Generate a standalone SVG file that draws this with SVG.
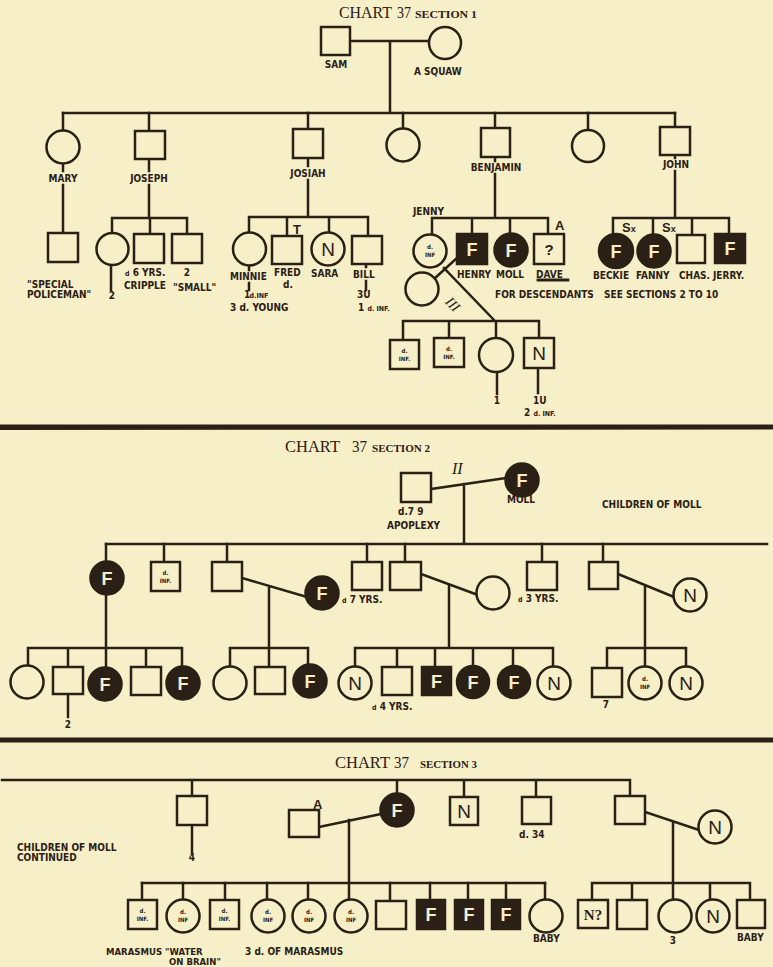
<svg xmlns="http://www.w3.org/2000/svg" width="773" height="967" viewBox="0 0 773 967">
<style>
.bg{fill:#f7efc8}
.l{stroke:#2b2015;stroke-width:2.5;fill:none;stroke-linecap:square}
.s{fill:#f7efc8;stroke:#2b2015;stroke-width:2.5}
.k{fill:#2b2015;stroke:#2b2015;stroke-width:2.5}
.t{font-family:"DejaVu Sans Condensed","DejaVu Sans","Liberation Sans",sans-serif;font-weight:bold;font-size:10px;fill:#2b2015}
.m{text-anchor:middle}
.sm{font-family:"DejaVu Sans Condensed","DejaVu Sans",sans-serif;font-weight:bold;font-size:6px;fill:#2b2015;text-anchor:middle}
.F{font-family:"Liberation Sans","Arial",sans-serif;font-weight:bold;font-size:18px;fill:#f7efc8;text-anchor:middle}
.N{font-family:"Liberation Sans","Arial",sans-serif;font-size:19px;fill:#2b2015;text-anchor:middle}
.ti{font-family:"Liberation Serif","Times New Roman",serif;font-size:17px;fill:#2b2015}
.se{font-family:"Liberation Serif","Times New Roman",serif;font-weight:bold;font-size:10px;fill:#2b2015}
.it{font-family:"Liberation Serif","Times New Roman",serif;font-style:italic;font-size:16px;fill:#2b2015}
.big{font-family:"Liberation Sans","Arial",sans-serif;font-weight:bold;font-size:13px;fill:#2b2015}
</style>
<rect class="bg" x="0" y="0" width="773" height="967"/>

<!-- ============ SECTION 1 ============ -->
<g id="title1">
<text class="ti" x="339" y="18" textLength="53" lengthAdjust="spacingAndGlyphs">CHART</text>
<text class="ti" x="397" y="18" textLength="14" lengthAdjust="spacingAndGlyphs">37</text>
<text class="se" x="415" y="18" textLength="62" lengthAdjust="spacingAndGlyphs">SECTION 1</text>
</g>

<g id="connectors1">
<path class="l" d="M350 41H429 M390 41V113 M63 113H675"/>
<path class="l" d="M63 113V130 M149 113V131 M308 113V129 M403 113V128 M495 113V128 M588 113V129 M675 113V127"/>
<path class="l" d="M63 163V171 M63 185V233"/>
<path class="l" d="M149 159V171 M149 185V218 M112 218H187 M112 218V233 M150 218V234 M187 218V234 M111 265V290"/>
<path class="l" d="M308 158V166 M308 180V217 M249 217H368 M249 217V232 M287 217V236 M329 217V232 M368 217V236 M249 266V270 M249 283V290 M366 264V267 M366 281V290"/>
<path class="l" d="M495 157V161 M495 174V218 M432 218H548 M432 218V234 M472 218V234 M510 218V233 M548 218V234"/>
<path class="l" d="M458 257L434 279 M444 268L495 321 M403 321H539 M403 321V340 M449 321V338 M496 321V338 M539 321V338 M497 372V394 M538 368V393"/>
<path class="l" d="M675 155V158 M675 171V218 M613 218H729 M613 218V234 M653 218V234 M692 218V235 M729 218V234"/>
<path class="l" d="M538 280H568" style="stroke-width:2.8"/>
</g>

<g id="sam"><rect class="s" x="321" y="27" width="29" height="28"/><text class="t m" x="336" y="68">SAM</text></g>
<g id="squaw"><circle class="s" cx="445" cy="43" r="16"/><text class="t" x="414" y="75">A SQUAW</text></g>

<g id="mary"><circle class="s" cx="63" cy="147" r="16.5"/><text class="t m" x="63" y="182">MARY</text></g>
<g id="joseph"><rect class="s" x="135" y="131" width="30" height="28"/><text class="t m" x="149" y="182">JOSEPH</text></g>
<g id="josiah"><rect class="s" x="293" y="129" width="30" height="29"/><text class="t m" x="308" y="177">JOSIAH</text></g>
<g id="daughter4"><circle class="s" cx="403" cy="145" r="16.5"/></g>
<g id="benjamin"><rect class="s" x="481" y="128" width="29" height="29"/><text class="t m" x="496" y="171">BENJAMIN</text></g>
<g id="daughter6"><circle class="s" cx="588" cy="146" r="16"/></g>
<g id="john"><rect class="s" x="660" y="127" width="30" height="28"/><text class="t m" x="676" y="168">JOHN</text></g>

<g id="policeman"><rect class="s" x="48" y="233" width="30" height="29"/>
<text class="t" x="27" y="288">"SPECIAL</text><text class="t" x="27" y="298">POLICEMAN"</text></g>
<g id="joseph-c1"><circle class="s" cx="112.5" cy="249" r="16"/><text class="t m" x="112" y="299">2</text></g>
<g id="joseph-c2"><rect class="s" x="134" y="234" width="30" height="29"/>
<text class="t" x="125" y="276"><tspan style="font-size:7px">d</tspan> 6 YRS.</text><text class="t" x="124" y="289">CRIPPLE</text></g>
<g id="joseph-c3"><rect class="s" x="172" y="234" width="30" height="29"/>
<text class="t m" x="187" y="276">2</text><text class="t" x="173" y="291">"SMALL"</text></g>

<g id="minnie"><circle class="s" cx="249.5" cy="249" r="16.5"/><text class="t" x="230" y="280">MINNIE</text>
<text class="t" x="244" y="298">1</text><text class="sm" x="259" y="298" style="font-size:7px">d.INF</text>
<text class="t" x="230" y="311">3 d. YOUNG</text></g>
<g id="fred"><rect class="s" x="272" y="236" width="30" height="28"/><text class="big" x="293" y="234">T</text>
<text class="t" x="274" y="276">FRED</text><text class="t m" x="288" y="288">d.</text></g>
<g id="sara"><circle class="s" cx="328" cy="249" r="16.5"/><text class="N" x="328" y="256">N</text><text class="t" x="311" y="277">SARA</text></g>
<g id="bill"><rect class="s" x="352" y="236" width="30" height="28"/><text class="t" x="353" y="278">BILL</text>
<text class="t" x="357" y="298">3U</text><text class="t" x="358" y="311">1 <tspan style="font-size:7px">d. INF.</tspan></text></g>

<g id="jenny"><text class="t" x="413" y="215">JENNY</text><circle class="s" cx="430" cy="251" r="16.5"/>
<text class="sm" x="430" y="249">d.</text><text class="sm" x="430" y="257">INF</text></g>
<g id="henry"><rect class="k" x="457" y="234" width="30" height="30"/><text class="F" x="472" y="256">F</text><text class="t" x="457" y="278">HENRY</text></g>
<g id="moll1"><circle class="k" cx="511" cy="250" r="16.5"/><text class="F" x="511" y="257">F</text><text class="t" x="496" y="278">MOLL</text></g>
<g id="dave"><rect class="s" x="534" y="234" width="30" height="30"/><text class="big m" x="549" y="255" style="font-size:15px">?</text>
<text class="big" x="555" y="230">A</text><text class="t" x="536" y="278">DAVE</text></g>
<text class="t" x="495" y="298">FOR DESCENDANTS</text>
<text class="t" x="604" y="298">SEE SECTIONS 2 TO 10</text>

<g id="henry-wife"><circle class="s" cx="422" cy="289" r="16.5"/></g>
<text class="it" x="453" y="309" transform="rotate(45 453 304)" text-anchor="middle" style="font-size:14px">III</text>
<g id="hw-c1"><rect class="s" x="390" y="340" width="29" height="29"/><text class="sm" x="404.5" y="353">d.</text><text class="sm" x="404.5" y="361">INF.</text></g>
<g id="hw-c2"><rect class="s" x="434" y="338" width="30" height="29"/><text class="sm" x="449" y="351">d.</text><text class="sm" x="449" y="359">INF.</text></g>
<g id="hw-c3"><circle class="s" cx="496" cy="355" r="17"/><text class="t m" x="497" y="404">1</text></g>
<g id="hw-c4"><rect class="s" x="524" y="338" width="30" height="30"/><text class="N" x="539" y="360">N</text>
<text class="t" x="533" y="404">1U</text><text class="t" x="524" y="416">2 <tspan style="font-size:7px">d. INF.</tspan></text></g>

<g id="beckie"><circle class="k" cx="616" cy="251" r="17"/><text class="F" x="616" y="258">F</text><text class="t" x="593" y="279">BECKIE</text></g>
<g id="fanny"><circle class="k" cx="654" cy="251" r="16.5"/><text class="F" x="654" y="258">F</text><text class="t" x="636" y="279">FANNY</text></g>
<text class="big" x="622" y="232">S<tspan style="font-size:9px">x</tspan></text>
<text class="big" x="662" y="232">S<tspan style="font-size:9px">x</tspan></text>
<g id="chas"><rect class="s" x="677" y="235" width="28" height="28"/><text class="t" x="679" y="279">CHAS.</text></g>
<g id="jerry"><rect class="k" x="715" y="234" width="30" height="29"/><text class="F" x="730" y="255">F</text><text class="t" x="713" y="279">JERRY.</text></g>

<g id="divider1"><path d="M0 424.5L773 424.5L773 429.5L0 430Z" fill="#2b2015"/></g>

<!-- ============ SECTION 2 ============ -->
<g id="title2">
<text class="ti" x="285" y="452" textLength="55" lengthAdjust="spacingAndGlyphs">CHART</text>
<text class="ti" x="352" y="452" textLength="15" lengthAdjust="spacingAndGlyphs">37</text>
<text class="se" x="372" y="452" textLength="58" lengthAdjust="spacingAndGlyphs">SECTION 2</text>
</g>

<g id="connectors2">
<path class="l" d="M431 489L506 478 M464 484V544 M106 544H767"/>
<path class="l" d="M106 544V561 M164 544V562 M227 544V562 M367 544V562 M405 544V562 M542 544V562 M603 544V562"/>
<path class="l" d="M106 595V648 M28 648H182 M28 648V665 M68 648V667 M106 648V667 M146 648V667 M182 648V666 M68 694V717"/>
<path class="l" d="M242 578L307 597 M269 587V648 M230 648H308 M230 648V666 M269 648V667 M308 648V664"/>
<path class="l" d="M421 574L478 595 M449 585V648 M355 648H553 M355 648V666 M397 648V667 M435 648V667 M473 648V666 M513 648V666 M553 648V666"/>
<path class="l" d="M618 574L674 597 M645 586V648 M607 648H686 M607 648V668 M645 648V666 M686 648V666"/>
</g>

<g id="moll-husband"><rect class="s" x="401" y="473" width="30" height="29"/>
<text class="t" x="398" y="515">d.7 9</text><text class="t" x="387" y="529">APOPLEXY</text></g>
<text class="it" x="452" y="474">II</text>
<g id="moll2"><circle class="k" cx="522" cy="480" r="16.5"/><text class="F" x="522" y="487">F</text><text class="t" x="507" y="503">MOLL</text></g>
<text class="t" x="602" y="508">CHILDREN OF MOLL</text>

<g id="m-c1"><circle class="k" cx="107" cy="578" r="16.5"/><text class="F" x="107" y="585">F</text></g>
<g id="m-c2"><rect class="s" x="151" y="562" width="29" height="29"/><text class="sm" x="165.5" y="575">d.</text><text class="sm" x="165.5" y="583">INF.</text></g>
<g id="m-c3"><rect class="s" x="212" y="562" width="30" height="29"/></g>
<g id="m-c3-wife"><circle class="k" cx="322" cy="593" r="16.5"/><text class="F" x="322" y="600">F</text>
<text class="t" x="342" y="603"><tspan style="font-size:7px">d</tspan> 7 YRS.</text></g>
<g id="m-c4"><rect class="s" x="352" y="562" width="30" height="28"/></g>
<g id="m-c5"><rect class="s" x="390" y="562" width="31" height="28"/></g>
<g id="m-c5-wife"><circle class="s" cx="493" cy="593" r="16.5"/></g>
<g id="m-c6"><rect class="s" x="527" y="562" width="30" height="28"/><text class="t" x="518" y="602"><tspan style="font-size:7px">d</tspan> 3 YRS.</text></g>
<g id="m-c7"><rect class="s" x="589" y="562" width="29" height="27"/></g>
<g id="m-c7-wife"><circle class="s" cx="690" cy="595" r="16.5"/><text class="N" x="690" y="602">N</text></g>

<g id="g1-1"><circle class="s" cx="27" cy="682" r="16.5"/></g>
<g id="g1-2"><rect class="s" x="53" y="667" width="30" height="27"/><text class="t m" x="68" y="728">2</text></g>
<g id="g1-3"><circle class="k" cx="105" cy="684" r="16.5"/><text class="F" x="105" y="691">F</text></g>
<g id="g1-4"><rect class="s" x="131" y="667" width="30" height="28"/></g>
<g id="g1-5"><circle class="k" cx="183" cy="683" r="16.5"/><text class="F" x="183" y="690">F</text></g>

<g id="g3-1"><circle class="s" cx="230" cy="683" r="16.5"/></g>
<g id="g3-2"><rect class="s" x="255" y="667" width="30" height="27"/></g>
<g id="g3-3"><circle class="k" cx="310" cy="681" r="16.5"/><text class="F" x="310" y="688">F</text></g>

<g id="g5-1"><circle class="s" cx="355" cy="683" r="16.5"/><text class="N" x="355" y="690">N</text></g>
<g id="g5-2"><rect class="s" x="382" y="667" width="30" height="28"/><text class="t" x="372" y="710"><tspan style="font-size:7px">d</tspan> 4 YRS.</text></g>
<g id="g5-3"><rect class="k" x="422" y="667" width="29" height="28"/><text class="F" x="436.5" y="688">F</text></g>
<g id="g5-4"><circle class="k" cx="473" cy="682" r="16"/><text class="F" x="473" y="689">F</text></g>
<g id="g5-5"><circle class="k" cx="514" cy="682" r="16"/><text class="F" x="514" y="689">F</text></g>
<g id="g5-6"><circle class="s" cx="554" cy="683" r="16.5"/><text class="N" x="554" y="690">N</text></g>

<g id="g7-1"><rect class="s" x="592" y="668" width="30" height="29"/><text class="t m" x="606" y="708">7</text></g>
<g id="g7-2"><circle class="s" cx="645" cy="683" r="16.5"/><text class="sm" x="645" y="681">d.</text><text class="sm" x="645" y="689">INF</text></g>
<g id="g7-3"><circle class="s" cx="686" cy="683" r="16.5"/><text class="N" x="686" y="690">N</text></g>

<g id="divider2"><path d="M0 737.5L773 737.5L773 742.5L0 742.5Z" fill="#2b2015"/></g>

<!-- ============ SECTION 3 ============ -->
<g id="title3">
<text class="ti" x="335" y="768" textLength="55" lengthAdjust="spacingAndGlyphs">CHART</text>
<text class="ti" x="394" y="768" textLength="15" lengthAdjust="spacingAndGlyphs">37</text>
<text class="se" x="420" y="768" textLength="57" lengthAdjust="spacingAndGlyphs">SECTION 3</text>
</g>
<text class="t" x="17" y="851">CHILDREN OF MOLL</text>
<text class="t" x="17" y="861">CONTINUED</text>

<g id="connectors3">
<path class="l" d="M2 780H630 M192 780V796 M397 780V793 M464 780V797 M536 780V797 M630 780V796 M192 825V853"/>
<path class="l" d="M319 827L381 814 M349 820V883 M142 883H545"/>
<path class="l" d="M142 883V900 M183 883V899 M225 883V900 M267 883V899 M308 883V899 M349 883V899 M390 883V901 M430 883V900 M468 883V900 M506 883V900 M545 883V899"/>
<path class="l" d="M645 812L699 830 M673 822V883 M592 883H750 M592 883V900 M632 883V900 M673 883V899 M710 883V899 M750 883V900"/>
</g>

<g id="s3-a"><rect class="s" x="177" y="796" width="30" height="29"/><text class="t m" x="192" y="861">4</text></g>
<g id="s3-husband"><rect class="s" x="289" y="810" width="30" height="27"/><text class="big" x="313" y="809">A</text></g>
<g id="s3-b"><circle class="k" cx="397" cy="810" r="16.5"/><text class="F" x="397" y="817">F</text></g>
<g id="s3-c"><rect class="s" x="450" y="797" width="28" height="28"/><text class="N" x="464" y="818">N</text></g>
<g id="s3-d"><rect class="s" x="522" y="797" width="29" height="27"/><text class="t" x="519" y="838">d. 34</text></g>
<g id="s3-e"><rect class="s" x="615" y="796" width="30" height="28"/></g>
<g id="s3-e-wife"><circle class="s" cx="715" cy="827" r="16.5"/><text class="N" x="715" y="834">N</text></g>

<g id="f-c1"><rect class="s" x="128" y="900" width="29" height="29"/><text class="sm" x="142.5" y="913">d.</text><text class="sm" x="142.5" y="921">INF.</text></g>
<g id="f-c2"><circle class="s" cx="183" cy="916" r="16.5"/><text class="sm" x="183" y="914">d.</text><text class="sm" x="183" y="922">INF</text></g>
<g id="f-c3"><rect class="s" x="210" y="900" width="29" height="29"/><text class="sm" x="224.5" y="913">d.</text><text class="sm" x="224.5" y="921">INF.</text></g>
<g id="f-c4"><circle class="s" cx="268" cy="916" r="16.5"/><text class="sm" x="268" y="914">d.</text><text class="sm" x="268" y="922">INF</text></g>
<g id="f-c5"><circle class="s" cx="309" cy="916" r="16.5"/><text class="sm" x="309" y="914">d.</text><text class="sm" x="309" y="922">INF</text></g>
<g id="f-c6"><circle class="s" cx="351" cy="916" r="16.5"/><text class="sm" x="351" y="914">d.</text><text class="sm" x="351" y="922">INF</text></g>
<g id="f-c7"><rect class="s" x="376" y="901" width="30" height="28"/></g>
<g id="f-c8"><rect class="k" x="417" y="900" width="28" height="29"/><text class="F" x="431" y="921">F</text></g>
<g id="f-c9"><rect class="k" x="455" y="900" width="28" height="29"/><text class="F" x="469" y="921">F</text></g>
<g id="f-c10"><rect class="k" x="492" y="900" width="28" height="29"/><text class="F" x="506" y="921">F</text></g>
<g id="f-c11"><circle class="s" cx="546" cy="916" r="16.5"/><text class="t" x="533" y="942">BABY</text></g>
<text class="t" x="106" y="955" style="font-size:9.5px">MARASMUS "WATER</text>
<text class="t" x="169" y="965" style="font-size:9.5px">ON BRAIN"</text>
<text class="t" x="245" y="955">3 d. OF  MARASMUS</text>

<g id="e-c1"><rect class="s" x="578" y="900" width="30" height="28"/><text x="593" y="920" style="font-family:'Liberation Serif',serif;font-weight:bold;font-size:15px;fill:#2b2015;text-anchor:middle">N?</text></g>
<g id="e-c2"><rect class="s" x="617" y="900" width="30" height="29"/></g>
<g id="e-c3"><circle class="s" cx="675" cy="916" r="16.5"/><text class="t m" x="673" y="944">3</text></g>
<g id="e-c4"><circle class="s" cx="713" cy="916" r="16.5"/><text class="N" x="713" y="923">N</text></g>
<g id="e-c5"><rect class="s" x="737" y="900" width="28" height="28"/><text class="t" x="737" y="941">BABY</text></g>
</svg>
